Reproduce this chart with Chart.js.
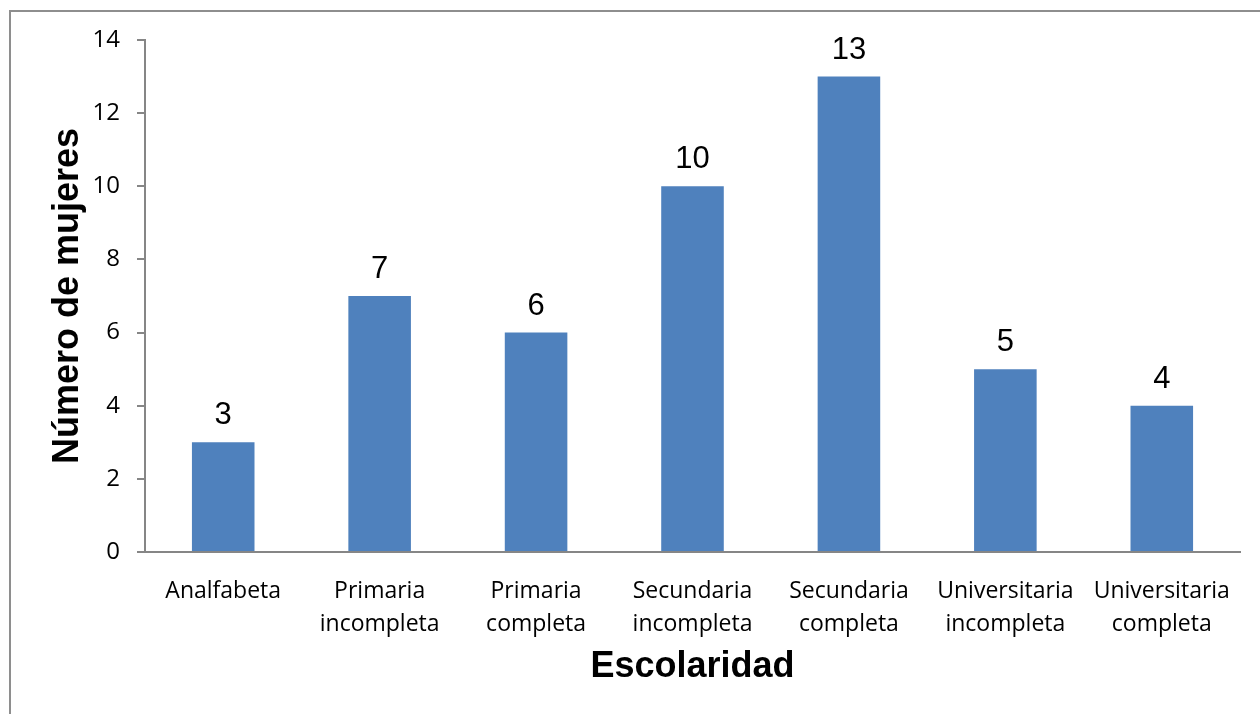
<!DOCTYPE html>
<html>
<head>
<meta charset="utf-8">
<script src="https://cdn.jsdelivr.net/npm/chart.js@4/dist/chart.umd.min.js"></script>
<style>
  html, body { margin:0; padding:0; background:#fff; overflow:hidden; }
  #wrap { position:relative; width:1260px; height:714px; }
  #frame { position:absolute; left:9px; top:10px; width:1300px; height:760px; border:2px solid #8e8e8e; box-sizing:border-box; }
  #c { position:absolute; left:0; top:0; }
</style>
</head>
<body>
<div id="wrap">
  <div id="frame"></div>
  <canvas id="c" width="1260" height="714"></canvas>
</div>
<script>
const categories = [
  ['Analfabeta'],
  ['Primaria','incompleta'],
  ['Primaria','completa'],
  ['Secundaria','incompleta'],
  ['Secundaria','completa'],
  ['Universitaria','incompleta'],
  ['Universitaria','completa']
];
const mujeres = [3, 7, 6, 10, 13, 5, 4];
const yTicks = [0, 2, 4, 6, 8, 10, 12, 14];

const AXIS = '#868686';
const BAR = '#4F81BD';

// numbers above each bar, placed from the bar element itself
const valueLabels = {
  id: 'valueLabels',
  afterDatasetsDraw(chart){
    const ctx = chart.ctx;
    const meta = chart.getDatasetMeta(0);
    ctx.save();
    ctx.font = '31px "Liberation Sans", Arial, sans-serif';
    ctx.fillStyle = '#000';
    ctx.textAlign = 'center';
    ctx.textBaseline = 'alphabetic';
    meta.data.forEach((bar, i)=>{
      ctx.fillText(String(mujeres[i]), bar.x, bar.y - 18);
    });
    ctx.restore();
  }
};

new Chart(document.getElementById('c').getContext('2d'), {
  type: 'bar',
  data: {
    labels: categories,
    datasets: [{ data: mujeres, backgroundColor: BAR, borderWidth: 0, barPercentage: 0.4, categoryPercentage: 1 }]
  },
  options: {
    responsive: false,
    animation: false,
    layout: { padding: { top: 40, right: 20, left: 0, bottom: 0 } },
    plugins: { legend: { display: false }, tooltip: { enabled: false } },
    scales: {
      x: {
        grid: { display: false },
        border: { display: true, color: AXIS, width: 2 },
        ticks: { color: '#000', font: { family: '"Open Sans", sans-serif', size: 23, lineHeight: 1.43 }, padding: 15, maxRotation: 0, autoSkip: false },
        title: { display: true, text: 'Escolaridad', color: '#000', font: { family: '"Liberation Sans", Arial, sans-serif', size: 36, weight: 'bold', lineHeight: 1.2 }, padding: { top: 0, bottom: 25 } },
        afterFit(s){ s.height = 162; }
      },
      y: {
        min: 0, max: 14,
        afterBuildTicks(s){ s.ticks = yTicks.map(v=>({ value: v })); },
        grid: { drawOnChartArea: false, drawTicks: true, tickLength: 8, color: AXIS, lineWidth: 2 },
        border: { display: true, color: AXIS, width: 2 },
        ticks: { color: '#000', font: { family: '"Open Sans", sans-serif', size: 24 }, padding: 17 },
        title: { display: true, text: 'Número de mujeres', color: '#000', font: { family: '"Liberation Sans", Arial, sans-serif', size: 36, weight: 'bold', lineHeight: 1.2 }, padding: { top: 46, bottom: 0 } },
        afterFit(s){ s.width = 145; }
      }
    }
  },
  plugins: [valueLabels]
});
</script>
</body>
</html>
